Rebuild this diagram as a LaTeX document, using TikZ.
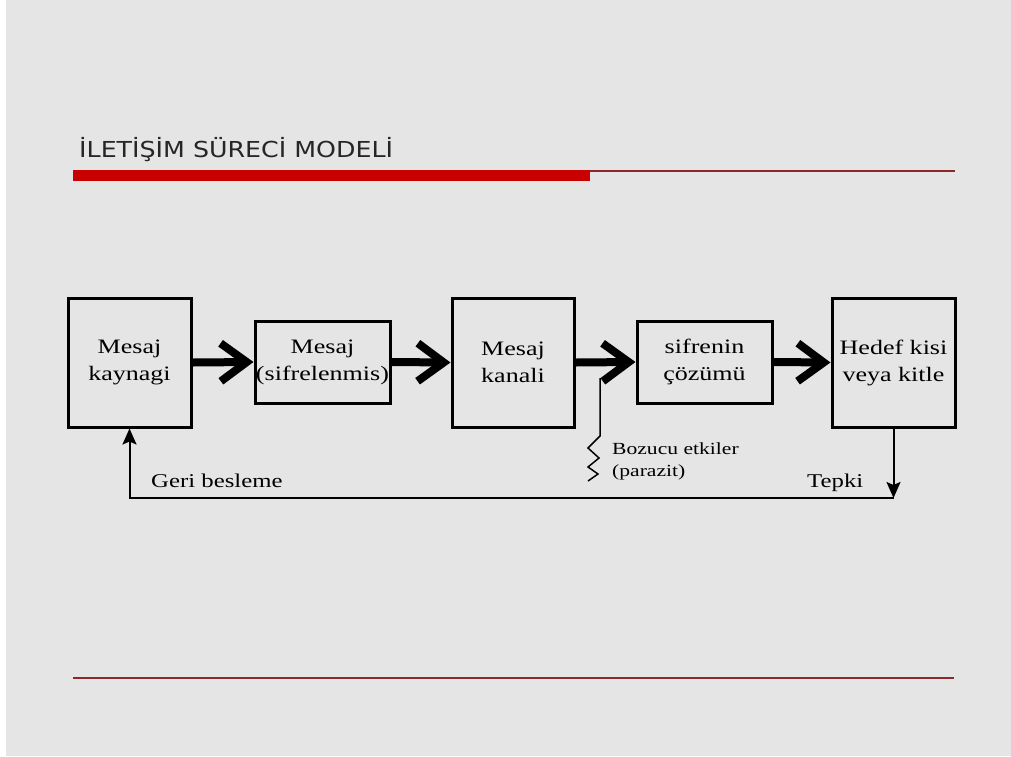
\documentclass[tikz,border=0pt]{standalone}
\usepackage{fontspec}
\setmainfont{Liberation Serif}[FakeStretch=1.27]
\newfontfamily\titlefont{DejaVu Sans}[FakeStretch=1.15]
\usetikzlibrary{arrows.meta}
\definecolor{bggray}{RGB}{229,229,229}
\definecolor{barred}{RGB}{200,0,0}
\definecolor{linered}{RGB}{140,40,40}
\tikzset{
  box/.style={draw=black, line width=3pt, align=center, inner sep=0pt,
    font=\fontsize{20.5}{27}\selectfont},
  bigarrow/.style={line width=8pt, -{Straight Barb[length=26pt, width=38pt]}},
  thin/.style={line width=2pt},
  fbtip/.style={-{Stealth[length=16pt, width=14pt, inset=3pt]}},
  lbl/.style={font=\fontsize{19.5}{22}\selectfont, inner sep=0pt, anchor=base west},
  small/.style={font=\fontsize{17}{22}\selectfont, inner sep=0pt, anchor=base west, align=left}
}
\begin{document}
\begin{tikzpicture}[x=1pt, y=-1pt]
\useasboundingbox (0,0) rectangle (1011,756);
\fill[white] (0,0) rectangle (1011,756);
\fill[bggray] (6,0) rectangle (1011,756);
% title
\node[anchor=base west, inner sep=0pt, font=\titlefont\fontsize{22}{26}\selectfont, text=black!85] (title) at (79,157) {İLETİŞİM SÜRECİ MODELİ};
\fill[barred] (73,170) rectangle (590,181);
\draw[linered, line width=1.5pt] (590,171) -- (955,171);
\draw[linered, line width=1.5pt] (73,678) -- (954,678);
% boxes
\node[box, minimum width=123pt, minimum height=129pt] (b1) at (129.5,362.5) {Mesaj\\kaynagi};
\node[box, minimum width=135pt, minimum height=82pt] (b2) at (322.5,362) {Mesaj\\(sifrelenmis)};
\node[box, minimum width=122pt, minimum height=129pt] (b3) at (513,362.5) {Mesaj\\kanali};
\node[box, minimum width=135pt, minimum height=82pt] (b4) at (704.5,362) {sifrenin\\çözümü};
\node[box, minimum width=123pt, minimum height=129pt] (b5) at (893.5,362.5) {Hedef kisi\\veya kitle};
% arrows
\draw[bigarrow] (b1.east) -- (b2.west);
\draw[bigarrow] (b2.east) -- (b3.west);
\draw[bigarrow] (b3.east) -- (b4.west);
\draw[bigarrow] (b4.east) -- (b5.west);
% noise
\coordinate (n0) at (600,378);
\draw[line width=1.5pt] (n0) -- (600,436) -- (588,448) -- (599,458) -- (588,467) -- (598,474) -- (588,481);
\node[small] (noise) at (612,454) {Bozucu etkiler};
\node[small] (noise2) at (612,476) {(parazit)};
% feedback
\coordinate (fr) at (893.5,498);
\draw[thin, fbtip] (b5.south) -- (fr);
\draw[thin, fbtip] (fr) -| (b1.south);
\node[lbl] (geri) at (151,487) {Geri besleme};
\node[lbl] (tepki) at (807,487) {Tepki};
\end{tikzpicture}
\end{document}
